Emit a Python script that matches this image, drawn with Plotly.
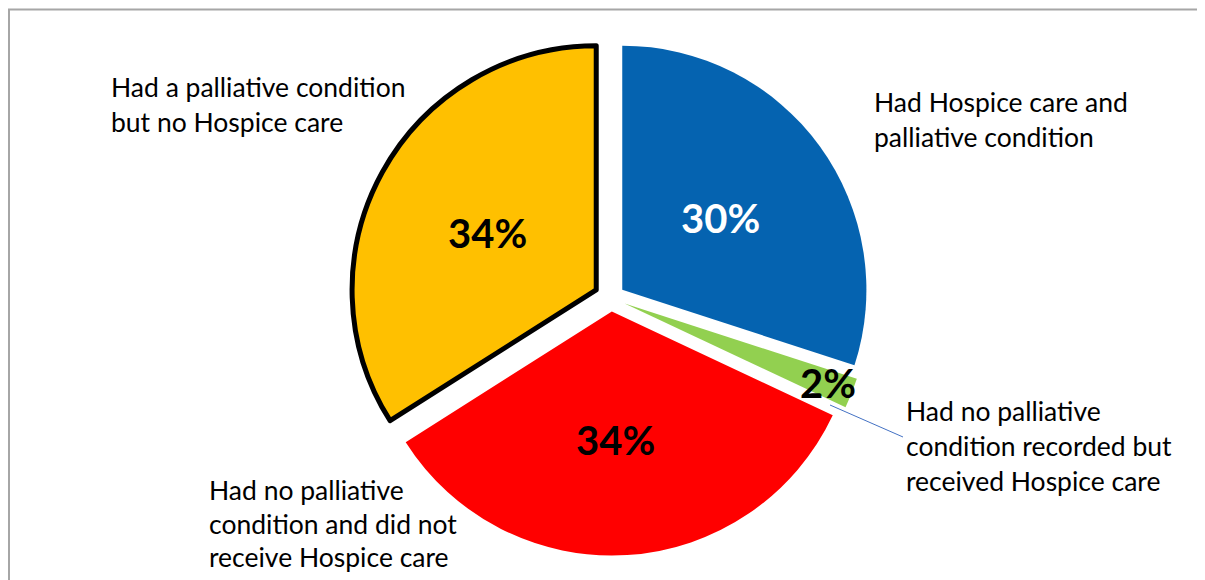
import plotly.graph_objects as go

OFF = 8  # page body margin
W, H = 1205 - OFF, 580 - OFF

categories = [
    "Had Hospice care and palliative condition",
    "Had no palliative condition recorded but received Hospice care",
    "Had no palliative condition and did not receive Hospice care",
    "Had a palliative condition but no Hospice care",
]
label_lines = [
    ["Had Hospice care and", "palliative condition"],
    ["Had no palliative", "condition recorded but", "received Hospice care"],
    ["Had no palliative", "condition and did not", "receive Hospice care"],
    ["Had a palliative condition", "but no Hospice care"],
]
values = [30, 2, 34, 34]
colors = ["#0563B0", "#92D050", "#FF0000", "#FFC000"]
pulls = [0.057, 0.06, 0.055, 0.069]
pct_colors = ["white", "black", "black", "black"]

# layout positions (pixels in the 1205x580 window)
label_pos = [(872, 102), (904, 411), (207, 490), (109, 87)]
label_step = [35, 35, 33.5, 35]
pct_pos = [(720, 218), (828, 383), (615, 440), (487, 233)]

def px(x):
    return (x - OFF) / W

def py(y):
    return 1 - (y - OFF) / H

fig = go.Figure(go.Pie(
    labels=categories,
    values=values,
    sort=False,
    direction="clockwise",
    rotation=0,
    pull=pulls,
    marker=dict(colors=colors, line=dict(color=["rgba(0,0,0,0)"] * 3 + ["black"], width=[0, 0, 0, 5])),
    textinfo="none",
    hoverinfo="label+percent",
    showlegend=False,
    domain=dict(x=[px(350), px(872)], y=[py(559), py(37)]),
))

annotations = []
for i, lines in enumerate(label_lines):
    x0, y0 = label_pos[i]
    for j, line in enumerate(lines):
        annotations.append(dict(
            x=px(x0), y=py(y0 + j * label_step[i]), xref="paper", yref="paper",
            text=line, showarrow=False, xanchor="left", yanchor="middle",
            font=dict(family="Lato", size=26.5, color="black"),
        ))

total = sum(values)
for i, v in enumerate(values):
    x0, y0 = pct_pos[i]
    annotations.append(dict(
        x=px(x0), y=py(y0), xref="paper", yref="paper",
        text="<b>%d%%</b>" % round(100 * v / total), showarrow=False,
        xanchor="center", yanchor="middle",
        font=dict(family="Lato", size=40, color=pct_colors[i]),
    ))

shapes = [
    dict(type="line", xref="paper", yref="paper", x0=px(830), y0=py(405), x1=px(903), y1=py(437),
         line=dict(color="#4472C4", width=1)),
    dict(type="line", xref="paper", yref="paper", x0=px(8), y0=py(9.5), x1=1, y1=py(9.5),
         line=dict(color="#A6A6A6", width=2)),
    dict(type="line", xref="paper", yref="paper", x0=px(9), y0=py(9), x1=px(9), y1=0,
         line=dict(color="#A6A6A6", width=2)),
]

fig.update_layout(
    width=W, height=H,
    margin=dict(l=0, r=0, t=0, b=0),
    paper_bgcolor="white", plot_bgcolor="white",
    annotations=annotations, shapes=shapes,
)

fig.write_html("out.html")
